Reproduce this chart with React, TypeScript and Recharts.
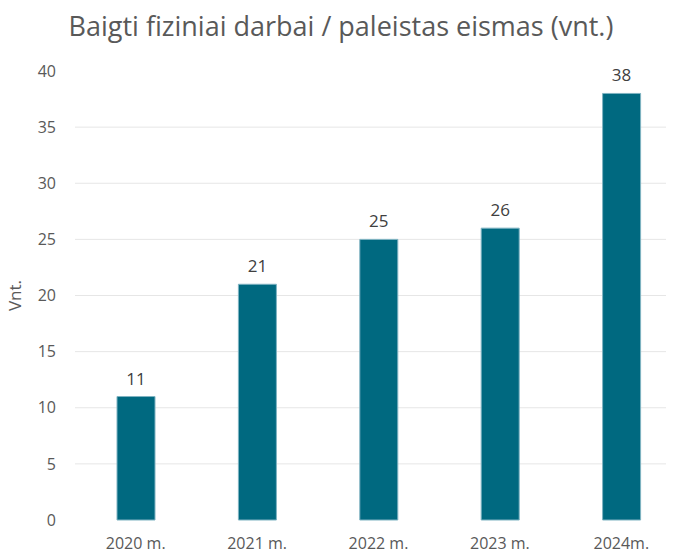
import React from "react";
import { BarChart, Bar, XAxis, YAxis, CartesianGrid, LabelList } from "recharts";

const categories = ["2020 m.", "2021 m.", "2022 m.", "2023 m.", "2024m."];
const values = [11, 21, 25, 26, 38];
const yTicks = [0, 5, 10, 15, 20, 25, 30, 35, 40];
const gridValues = [5, 10, 15, 20, 25, 30, 35];
const title = "Baigti fiziniai darbai / paleistas eismas (vnt.)";
const yLabel = "Vnt.";

const data = categories.map((c, i) => ({ name: c, value: values[i] }));

const FONT = "'Open Sans', sans-serif";
const TXT = "#595959";

export default function App() {
  return (
    <div style={{ margin: -8, width: 674, height: 557, overflow: "hidden", position: "relative", background: "#fff" }}>
      <div
        style={{
          position: "absolute",
          top: 6,
          left: 0,
          width: 682,
          textAlign: "center",
          fontFamily: FONT,
          fontSize: 27,
          color: TXT,
          lineHeight: "40px",
          whiteSpace: "nowrap",
        }}
      >
        {title}
      </div>
      <BarChart
        width={700}
        height={557}
        data={data}
        margin={{ top: 71, right: 18, bottom: 7, left: 0 }}
      >
        <CartesianGrid vertical={false} stroke="#e6e6e6" horizontalValues={gridValues} />
        <XAxis
          dataKey="name"
          height={30}
          axisLine={false}
          tickLine={false}
          tickSize={0}
          tickMargin={18}
          tick={{ fill: TXT, fontSize: 16, fontFamily: FONT }}
          interval={0}
        />
        <YAxis
          width={75}
          domain={[0, 40]}
          ticks={yTicks}
          axisLine={false}
          tickLine={false}
          tickSize={0}
          tickMargin={19}
          tick={{ fill: TXT, fontSize: 16, fontFamily: FONT }}
          label={{ value: yLabel, angle: -90, position: "insideLeft", dx: 10, fill: TXT, fontSize: 17, fontFamily: FONT, style: { textAnchor: "middle" } }}
        />
        <Bar dataKey="value" fill="#006980" stroke="#7fb3c2" strokeWidth={1} barSize={38} isAnimationActive={false}>
          <LabelList dataKey="value" position="top" offset={12} fill="#404040" fontSize={17} fontFamily={FONT} />
        </Bar>
      </BarChart>
    </div>
  );
}
